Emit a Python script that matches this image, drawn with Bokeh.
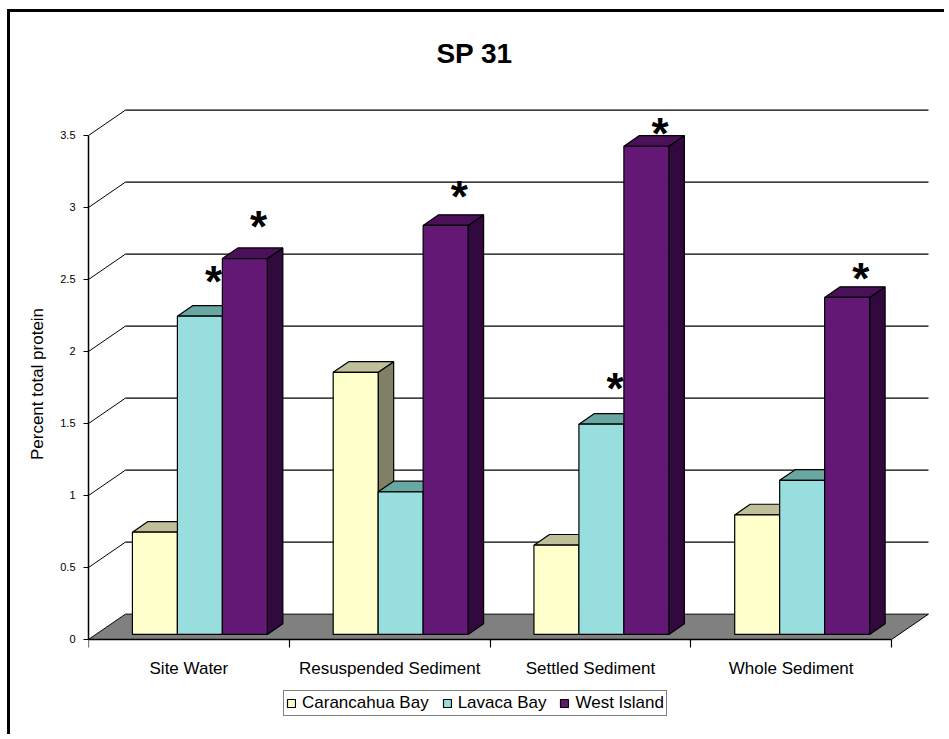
from bokeh.plotting import figure
from bokeh.models import (Range1d, FixedTicker, Label, Legend, LegendItem,
                          NumeralTickFormatter)
from bokeh.core.properties import value
from bokeh.embed import file_html
from bokeh.resources import INLINE

# ---------------- data ----------------
categories = ["Site Water", "Resuspended Sediment", "Settled Sediment", "Whole Sediment"]
series_names = ["Carancahua Bay", "Lavaca Bay", "West Island"]
carancahua = [0.71, 1.82, 0.62, 0.83]
lavaca = [2.21, 0.99, 1.46, 1.07]
west_island = [2.61, 2.84, 3.39, 2.34]
y_ticks = [0, 0.5, 1, 1.5, 2, 2.5, 3, 3.5]
# significance asterisks: category index, series index, height of the marker (value units)
star_cat = [0, 0, 1, 2, 2, 3]
star_series = [1, 2, 2, 1, 2, 2]
star_level = [2.66, 3.04, 3.25, 1.92, 3.69, 2.68]

# ---------------- styles ----------------
FONT = "Liberation Sans"
front_colors = ["#FFFFCC", "#99DEDE", "#641875"]
top_colors = ["#BFBF99", "#68A8A0", "#4A1058"]
side_colors = ["#808066", "#4E8A84", "#32093F"]
FLOOR = "#808080"

# oblique projection (depth offsets in data units)
DX, DY = 0.184, 0.176          # full wall depth
D0, D1 = 0.20, 0.62            # bar front / back depth fraction
BAR_W = 0.224
SHIFT = 0.018
N = len(categories)


def proj(x, y, d):
    return x + d * DX, y + d * DY


series_values = [carancahua, lavaca, west_island]

p = figure(width=937, height=725, output_backend="svg", toolbar_location=None,
           x_range=Range1d(0, 4.219), y_range=Range1d(-0.6806, 4.229),
           min_border_left=78, min_border_right=12, min_border_top=18,
           min_border_bottom=0, title=None)
p.styles = {"border-left": "3px solid black", "border-top": "3px solid black",
            "margin-left": "7px", "margin-top": "9px"}
p.grid.visible = False
p.outline_line_color = None
p.background_fill_color = "white"
p.border_fill_color = "white"

# back wall gridlines
gx, gy = [], []
for v in y_ticks[1:]:
    x0, y0 = proj(0, v, 1)
    x1, y1 = proj(N, v, 1)
    gx.append([x0, x1]); gy.append([y0, y1])
p.multi_line(gx, gy, line_color="black", line_width=1.2)

# left wall diagonals
dxs, dys = [], []
for v in y_ticks[1:]:
    x1, y1 = proj(0, v, 1)
    dxs.append([0, x1]); dys.append([v, y1])
p.multi_line(dxs, dys, line_color="black", line_width=1.0)

# floor
fx = [proj(0, 0, 0)[0], proj(N, 0, 0)[0], proj(N, 0, 1)[0], proj(0, 0, 1)[0]]
fy = [proj(0, 0, 0)[1], proj(N, 0, 0)[1], proj(N, 0, 1)[1], proj(0, 0, 1)[1]]
p.patch(fx, fy, fill_color=FLOOR, line_color="black", line_width=1.0)

# bars (side, top, front per bar, in painter's order)
xs, ys, fills = [], [], []
legend_index = {}
for i in range(N):
    for k, vals in enumerate(series_values):
        v = vals[i]
        left = i + 0.5 + SHIFT - 1.5 * BAR_W + k * BAR_W
        right = left + BAR_W
        pts = [proj(right, 0, D0), proj(right, 0, D1), proj(right, v, D1), proj(right, v, D0)]
        xs.append([q[0] for q in pts]); ys.append([q[1] for q in pts]); fills.append(side_colors[k])
        pts = [proj(left, v, D0), proj(right, v, D0), proj(right, v, D1), proj(left, v, D1)]
        xs.append([q[0] for q in pts]); ys.append([q[1] for q in pts]); fills.append(top_colors[k])
        pts = [proj(left, 0, D0), proj(right, 0, D0), proj(right, v, D0), proj(left, v, D0)]
        xs.append([q[0] for q in pts]); ys.append([q[1] for q in pts]); fills.append(front_colors[k])
        if k not in legend_index:
            legend_index[k] = len(xs) - 1

bars = p.patches(xs, ys, fill_color=fills, line_color="black", line_width=1.2)

# significance asterisks, centred over each bar's top face
sx, sy = [], []
for c, s, lev in zip(star_cat, star_series, star_level):
    left = c + 0.5 + SHIFT - 1.5 * BAR_W + s * BAR_W
    cx = left + BAR_W / 2 + (D0 + D1) / 2 * DX
    sx.append(cx); sy.append(lev)
p.text(sx, sy, text=["*"] * len(sx), text_font=value(FONT), text_font_size="44px",
       text_font_style="bold", text_align="center", text_baseline="alphabetic",
       y_offset=25, x_offset=6, text_color="black")

# title
p.add_layout(Label(x=1.923, y=4.066, text="SP 31", text_font=FONT, text_font_size="28px",
                   text_font_style="bold", text_align="center", text_baseline="middle",
                   text_color="black"))

# axes
ya = p.yaxis[0]
ya.ticker = FixedTicker(ticks=y_ticks, minor_ticks=[])
ya.bounds = (0, 3.5)
ya.formatter = NumeralTickFormatter(format="0.[0]")
ya.major_tick_out = 5
ya.major_tick_in = 0
ya.minor_tick_out = 0
ya.axis_line_width = 1.5
ya.major_tick_line_width = 1.2
ya.major_label_text_font = FONT
ya.major_label_text_font_size = "11px"
ya.major_label_text_color = "black"
ya.major_label_standoff = 8
ya.axis_label = "Percent total protein"
ya.axis_label_text_font = FONT
ya.axis_label_text_font_size = "17px"
ya.axis_label_text_font_style = "normal"
ya.axis_label_text_color = "black"
ya.axis_label_standoff = 10

xa = p.xaxis[0]
centers = [i + 0.5 for i in range(N)]
xa.fixed_location = 0
xa.ticker = FixedTicker(ticks=centers, minor_ticks=list(range(N + 1)))
xa.bounds = (0, N)
xa.major_label_overrides = {c: name for c, name in zip(centers, categories)}
xa.major_tick_out = 0
xa.major_tick_in = 0
xa.minor_tick_out = 8
xa.minor_tick_in = 0
xa.minor_tick_line_width = 1.2
xa.axis_line_width = 1.5
xa.major_label_text_font = FONT
xa.major_label_text_font_size = "17px"
xa.major_label_text_color = "black"
xa.major_label_standoff = 12

# legend
items = [LegendItem(label=name, renderers=[bars], index=legend_index[k])
         for k, name in enumerate(series_names)]
legend = Legend(items=items, orientation="horizontal", location=(195, 21),
                border_line_color="black", border_line_width=1.2,
                background_fill_color="white", background_fill_alpha=1,
                padding=2, spacing=13, label_standoff=6, margin=0,
                glyph_width=10, glyph_height=10,
                label_text_font=FONT, label_text_font_size="17px",
                label_text_color="black")
p.add_layout(legend)

open("out.html", "w").write(file_html(p, INLINE))
